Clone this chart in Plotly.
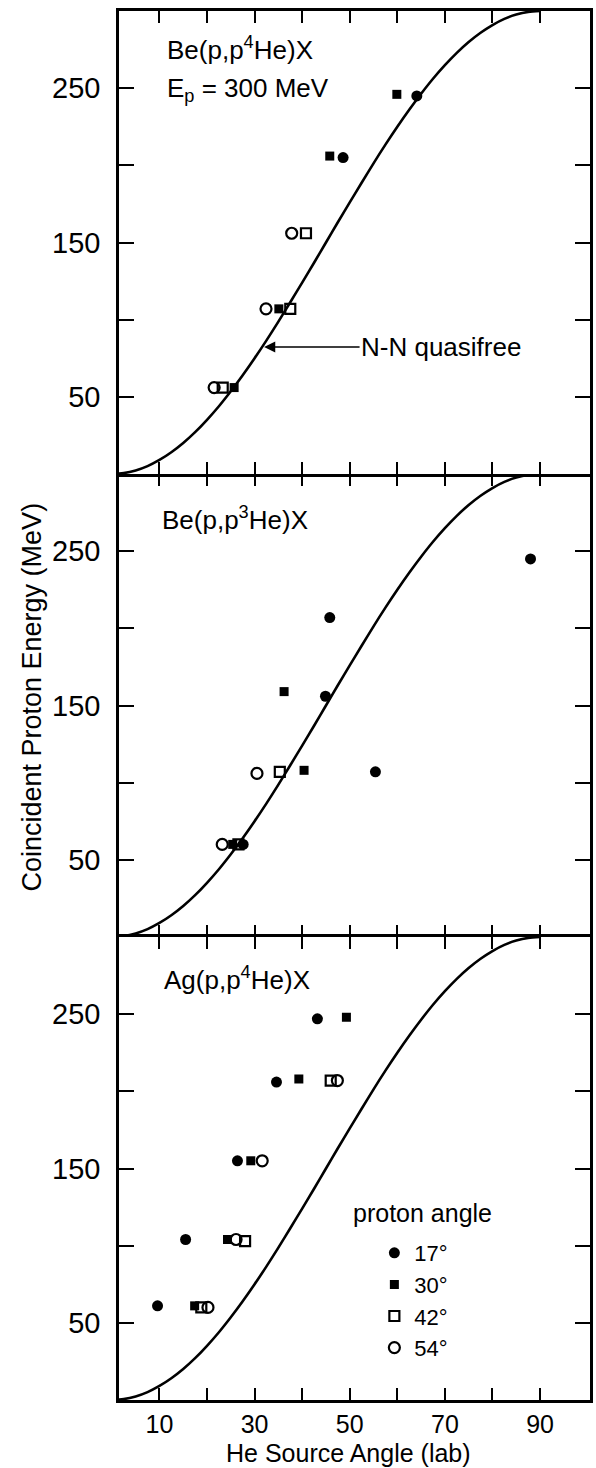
import plotly.graph_objects as go
from plotly.subplots import make_subplots

# ---------------- data ----------------
# N-N quasifree kinematic curve (He source angle vs coincident proton energy)
curve_angle = [0, 2.5, 5, 7.5, 10, 12.5, 15, 17.5, 20, 22.5, 25, 27.5, 30, 32.5, 35, 37.5,
               40, 42.5, 45, 47.5, 50, 52.5, 55, 57.5, 60, 62.5, 65, 67.5, 70, 72.5, 75,
               77.5, 80, 82.5, 85, 87.5, 90]
curve_energy = [0, 0.6, 2.3, 5.1, 9.1, 14.1, 20.1, 27.1, 35.1, 43.9, 53.6, 64.0, 75.0, 86.6,
                98.7, 111.3, 124.0, 136.9, 150.0, 163.1, 176.0, 188.7, 201.3, 213.4, 225.0,
                236.0, 246.4, 256.1, 264.9, 272.9, 279.9, 285.9, 290.9, 294.9, 297.7, 299.4,
                300.0]

proton_angles = ["17°", "30°", "42°", "54°"]

# Panel 1: Be(p,p4He)X
be4_p17_angle = [64.1, 48.6]
be4_p17_energy = [245, 205]
be4_p30_angle = [59.9, 45.8, 35.1, 25.7]
be4_p30_energy = [246, 206, 107, 56]
be4_p42_angle = [40.8, 37.5, 23.3]
be4_p42_energy = [156, 107, 56]
be4_p54_angle = [37.8, 32.4, 21.5]
be4_p54_energy = [156, 107, 56]

# Panel 2: Be(p,p3He)X
be3_p17_angle = [88.0, 45.8, 44.9, 55.4, 27.6]
be3_p17_energy = [245, 207, 156, 107, 60]
be3_p30_angle = [36.2, 40.4, 25.4]
be3_p30_energy = [159, 108, 60]
be3_p42_angle = [35.3, 26.6]
be3_p42_energy = [107, 60]
be3_p54_angle = [30.5, 23.2]
be3_p54_energy = [106, 60]

# Panel 3: Ag(p,p4He)X
ag4_p17_angle = [43.2, 34.6, 26.4, 15.5, 9.6]
ag4_p17_energy = [247, 206, 155, 104, 61]
ag4_p30_angle = [49.3, 39.3, 29.2, 24.3, 17.4]
ag4_p30_energy = [248, 208, 155, 104, 61]
ag4_p42_angle = [46.0, 28.0, 18.8]
ag4_p42_energy = [207, 103, 60]
ag4_p54_angle = [47.4, 31.6, 26.1, 20.2]
ag4_p54_energy = [207, 155, 104, 60]

x_labeled_ticks = [10, 30, 50, 70, 90]
x_unlabeled_ticks = [20, 40, 60, 80]
y_labeled_ticks = [50, 150, 250]
y_unlabeled_ticks = [100, 200]

# ---------------- styling ----------------
FONT = "Liberation Sans, Arial, Helvetica, sans-serif"
INK = "#000000"
marker_styles = [
    dict(symbol="circle", size=11, color=INK, line=dict(width=0)),
    dict(symbol="square", size=9, color=INK, line=dict(width=0)),
    dict(symbol="square-open", size=10, color=INK, line=dict(width=2.2, color=INK)),
    dict(symbol="circle-open", size=11, color=INK, line=dict(width=2.2, color=INK)),
]

panels = [
    [(be4_p17_angle, be4_p17_energy), (be4_p30_angle, be4_p30_energy),
     (be4_p42_angle, be4_p42_energy), (be4_p54_angle, be4_p54_energy)],
    [(be3_p17_angle, be3_p17_energy), (be3_p30_angle, be3_p30_energy),
     (be3_p42_angle, be3_p42_energy), (be3_p54_angle, be3_p54_energy)],
    [(ag4_p17_angle, ag4_p17_energy), (ag4_p30_angle, ag4_p30_energy),
     (ag4_p42_angle, ag4_p42_energy), (ag4_p54_angle, ag4_p54_energy)],
]

fig = make_subplots(rows=3, cols=1, vertical_spacing=0)

for r, series in enumerate(panels, start=1):
    fig.add_trace(go.Scatter(x=curve_angle, y=curve_energy, mode="lines",
                             line=dict(color=INK, width=2.6, shape="spline", smoothing=0.8),
                             showlegend=False, hoverinfo="skip"), row=r, col=1)
    for i, (ang, en) in enumerate(series):
        fig.add_trace(go.Scatter(x=ang, y=en, mode="markers", name=proton_angles[i],
                                 marker=marker_styles[i], showlegend=(r == 3)),
                      row=r, col=1)

for r in (1, 2, 3):
    fig.update_xaxes(range=[1.5, 100.5], tickmode="array", tickvals=x_labeled_ticks,
                     ticks="inside", ticklen=12, tickwidth=2, tickcolor=INK,
                     minor=dict(tickmode="array", tickvals=x_unlabeled_ticks, ticks="inside",
                                ticklen=12, tickwidth=2, tickcolor=INK, showgrid=False),
                     showline=(r != 2), linewidth=2.6, linecolor=INK, mirror="ticks",
                     showgrid=False, zeroline=False, showticklabels=(r == 3),
                     tickfont=dict(family=FONT, size=25, color=INK), row=r, col=1)
    fig.update_yaxes(range=[0, 300], tickmode="array", tickvals=y_labeled_ticks,
                     ticks="inside", ticklen=15, tickwidth=2, tickcolor=INK,
                     minor=dict(tickmode="array", tickvals=y_unlabeled_ticks, ticks="inside",
                                ticklen=15, tickwidth=2, tickcolor=INK, showgrid=False),
                     showline=True, linewidth=2.6, linecolor=INK, mirror="ticks",
                     showgrid=False, zeroline=False, ticklabelstandoff=10,
                     tickfont=dict(family=FONT, size=29, color=INK), row=r, col=1)

W, H = 596, 1468
L, R, T, B = 119, 3, 11, 68
PW, PH = W - L - R, H - T - B


def px(xp):
    return (xp - L) / PW


def py(yp):
    return (H - B - yp) / PH


def label(text, x, y, size=26, **kw):
    fig.add_annotation(text=text, x=px(x), y=py(y), xref="paper", yref="paper",
                       xanchor=kw.pop("xanchor", "left"), yanchor=kw.pop("yanchor", "middle"),
                       showarrow=False, font=dict(family=FONT, size=size, color=INK), **kw)


label("Be(p,p<sup>4</sup>He)X", 165, 49)
label("E<sub>p</sub> = 300 MeV", 165, 90)
label("Be(p,p<sup>3</sup>He)X", 160, 518)
label("Ag(p,p<sup>4</sup>He)X", 162, 978)
label("proton angle", 352, 1213, size=25)

# arrow to the curve
fig.add_annotation(text="N-N quasifree", x=px(265), y=py(347), xref="paper", yref="paper",
                   ax=177, ay=0, axref="pixel", ayref="pixel", showarrow=True,
                   arrowhead=2, arrowsize=1.4, arrowwidth=1.6, arrowcolor=INK,
                   font=dict(family=FONT, size=26, color=INK))

# axis titles
label("He Source Angle (lab)", 350, 1453, size=25, xanchor="center")
label("Coincident Proton Energy (MeV)", 31, 697, size=27, xanchor="center", textangle=-90)

fig.update_layout(
    width=W, height=H, margin=dict(l=L, r=R, t=T, b=B),
    paper_bgcolor="white", plot_bgcolor="white",
    font=dict(family=FONT, color=INK),
    showlegend=True,
    legend=dict(x=px(376), y=py(1232), xanchor="left", yanchor="top",
                bgcolor="rgba(0,0,0,0)", borderwidth=0, tracegroupgap=0,
                font=dict(family=FONT, size=22, color=INK), itemwidth=30),
)

fig.write_html("out.html")
